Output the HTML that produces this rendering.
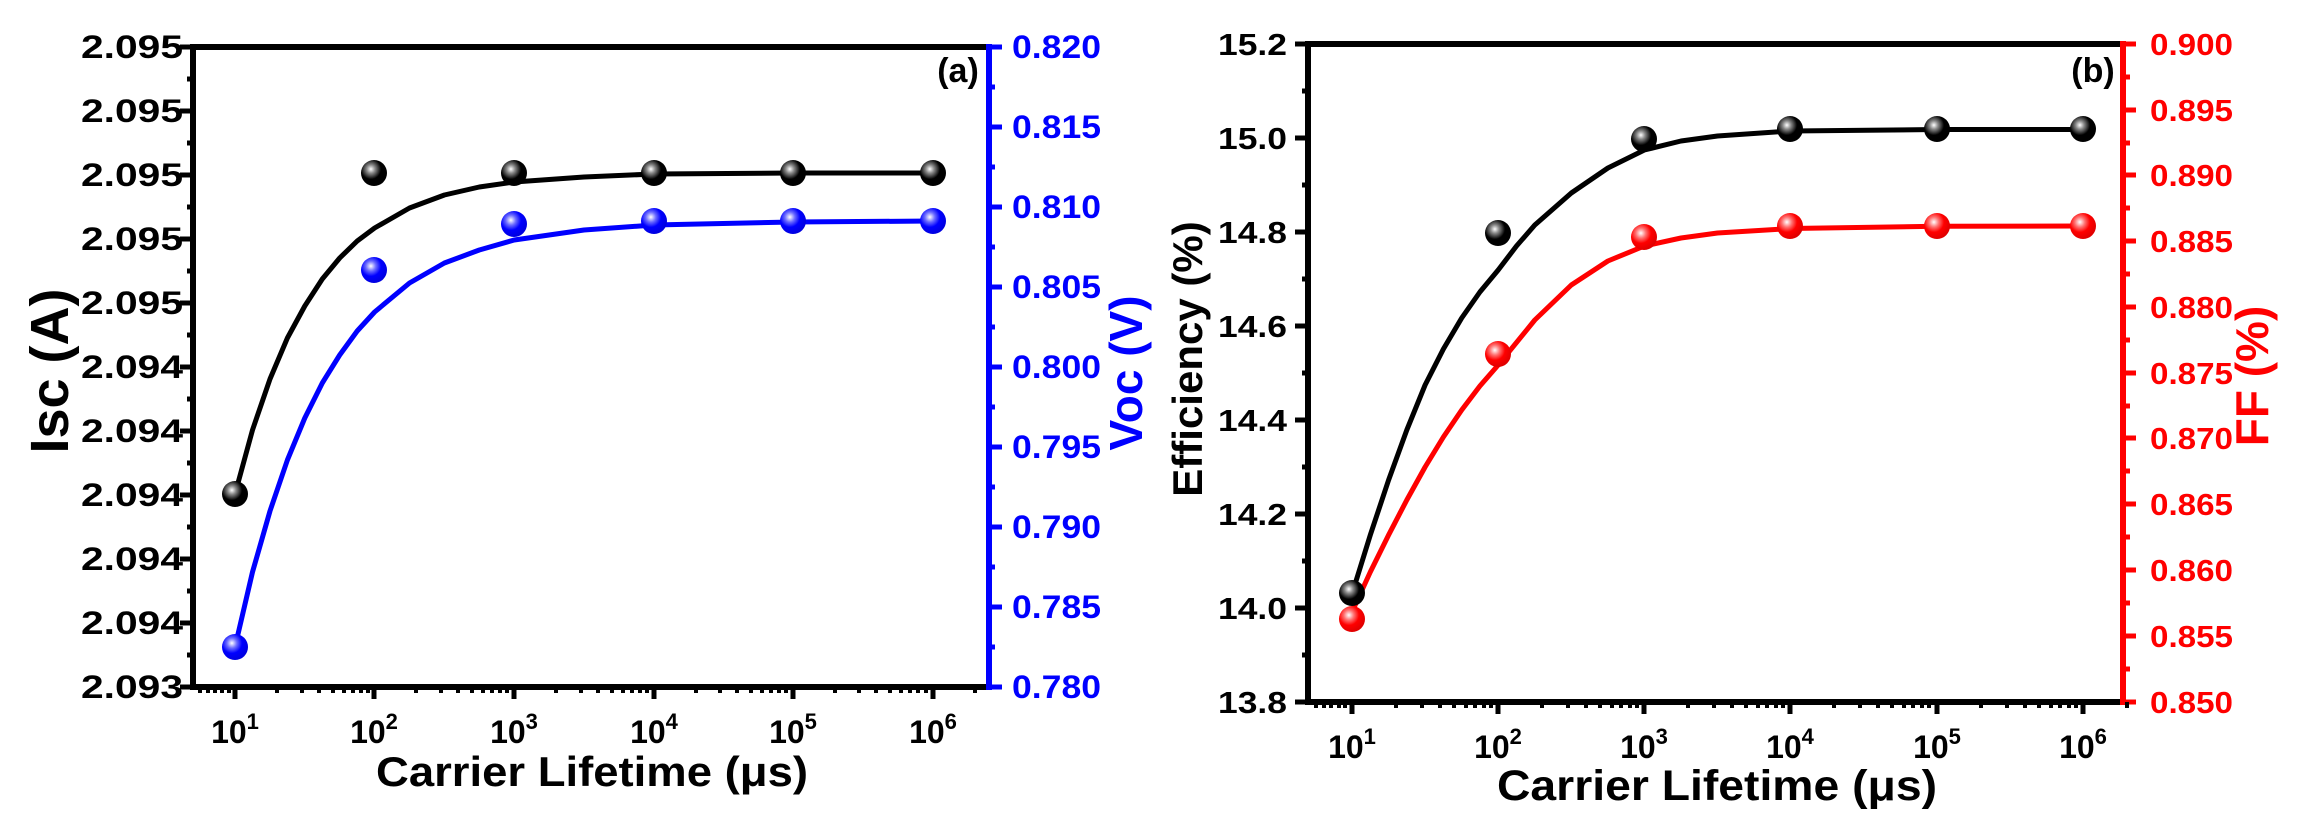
<!DOCTYPE html>
<html><head><meta charset="utf-8"><style>
html,body{margin:0;padding:0;background:#fff;}
svg{display:block;}
text{font-family:"Liberation Sans",Arial,sans-serif;font-weight:bold;}
</style></head><body>
<svg width="2307" height="832" viewBox="0 0 2307 832" xmlns="http://www.w3.org/2000/svg">
<defs>
<radialGradient id="gk" cx="0.38" cy="0.35" r="0.65"><stop offset="0" stop-color="#fff"/><stop offset="0.25" stop-color="#888"/><stop offset="0.6" stop-color="#000"/><stop offset="1" stop-color="#000"/></radialGradient>
<radialGradient id="gb" cx="0.38" cy="0.35" r="0.65"><stop offset="0" stop-color="#fff"/><stop offset="0.3" stop-color="#6a6aff"/><stop offset="0.6" stop-color="#0000ff"/><stop offset="1" stop-color="#0000e0"/></radialGradient>
<radialGradient id="gr" cx="0.38" cy="0.35" r="0.65"><stop offset="0" stop-color="#fff"/><stop offset="0.3" stop-color="#ff7070"/><stop offset="0.6" stop-color="#ff0000"/><stop offset="1" stop-color="#e00000"/></radialGradient>
</defs>

<!-- ================= PANEL A ================= -->
<g id="pa">
<polyline fill="none" stroke="#000" stroke-width="5" stroke-linejoin="round" points="235,494 252.5,430 270,379 287.4,338 304.8,306 322.3,279 339.7,258 357.2,241 374.6,228 409.5,208 444.4,195 479.3,187 514.2,182 584,177 654,174 793,173 933,173"/>
<polyline fill="none" stroke="#0000ff" stroke-width="5" stroke-linejoin="round" points="235,647 252.5,572 270,511 287.4,460 304.8,418 322.3,383 339.7,355 357.2,331 374.6,312 409.5,283 444.4,263 479.3,250 514.2,240 584,230 654,225 793,222 933,221"/>
<g fill="url(#gk)">
<circle cx="235" cy="494" r="13"/><circle cx="374" cy="173" r="13"/><circle cx="514" cy="173" r="13"/><circle cx="654" cy="173" r="13"/><circle cx="793" cy="173" r="13"/><circle cx="933" cy="173" r="13"/>
</g>
<g fill="url(#gb)">
<circle cx="235" cy="647" r="13"/><circle cx="374" cy="270" r="13"/><circle cx="514" cy="224" r="13"/><circle cx="654" cy="221" r="13"/><circle cx="793" cy="221" r="13"/><circle cx="933" cy="221" r="13"/>
</g>
<line x1="190" y1="47" x2="989" y2="47" stroke="#000" stroke-width="6"/>
<line x1="190" y1="687" x2="989" y2="687" stroke="#000" stroke-width="6"/>
<line x1="193" y1="44" x2="193" y2="690" stroke="#000" stroke-width="6"/>
<line x1="989" y1="44" x2="989" y2="690" stroke="#0000ff" stroke-width="6"/>
<g stroke="#000" stroke-width="5">
<line x1="180" y1="47" x2="193" y2="47"/><line x1="180" y1="111" x2="193" y2="111"/><line x1="180" y1="175" x2="193" y2="175"/><line x1="180" y1="239" x2="193" y2="239"/><line x1="180" y1="303" x2="193" y2="303"/><line x1="180" y1="367" x2="193" y2="367"/><line x1="180" y1="431" x2="193" y2="431"/><line x1="180" y1="495" x2="193" y2="495"/><line x1="180" y1="559" x2="193" y2="559"/><line x1="180" y1="623" x2="193" y2="623"/><line x1="180" y1="687" x2="193" y2="687"/>
<line x1="187" y1="79" x2="193" y2="79"/><line x1="187" y1="143" x2="193" y2="143"/><line x1="187" y1="207" x2="193" y2="207"/><line x1="187" y1="271" x2="193" y2="271"/><line x1="187" y1="335" x2="193" y2="335"/><line x1="187" y1="399" x2="193" y2="399"/><line x1="187" y1="463" x2="193" y2="463"/><line x1="187" y1="527" x2="193" y2="527"/><line x1="187" y1="591" x2="193" y2="591"/><line x1="187" y1="655" x2="193" y2="655"/>
</g>
<g stroke="#0000ff" stroke-width="5">
<line x1="989" y1="47" x2="1002" y2="47"/><line x1="989" y1="127" x2="1002" y2="127"/><line x1="989" y1="207" x2="1002" y2="207"/><line x1="989" y1="287" x2="1002" y2="287"/><line x1="989" y1="367" x2="1002" y2="367"/><line x1="989" y1="447" x2="1002" y2="447"/><line x1="989" y1="527" x2="1002" y2="527"/><line x1="989" y1="607" x2="1002" y2="607"/><line x1="989" y1="687" x2="1002" y2="687"/>
<line x1="989" y1="87" x2="995" y2="87"/><line x1="989" y1="167" x2="995" y2="167"/><line x1="989" y1="247" x2="995" y2="247"/><line x1="989" y1="327" x2="995" y2="327"/><line x1="989" y1="407" x2="995" y2="407"/><line x1="989" y1="487" x2="995" y2="487"/><line x1="989" y1="567" x2="995" y2="567"/><line x1="989" y1="647" x2="995" y2="647"/>
</g>
<g stroke="#000" stroke-width="5">
<line x1="235" y1="687" x2="235" y2="699"/><line x1="374" y1="687" x2="374" y2="699"/><line x1="514" y1="687" x2="514" y2="699"/><line x1="654" y1="687" x2="654" y2="699"/><line x1="793" y1="687" x2="793" y2="699"/><line x1="933" y1="687" x2="933" y2="699"/>
</g>
<g stroke="#000" stroke-width="4">
<line x1="200" y1="687" x2="200" y2="693"/><line x1="208" y1="687" x2="208" y2="693"/><line x1="215" y1="687" x2="215" y2="693"/><line x1="222" y1="687" x2="222" y2="693"/><line x1="229" y1="687" x2="229" y2="693"/>
<line x1="277" y1="687" x2="277" y2="693"/><line x1="302" y1="687" x2="302" y2="693"/><line x1="319" y1="687" x2="319" y2="693"/><line x1="333" y1="687" x2="333" y2="693"/><line x1="344" y1="687" x2="344" y2="693"/><line x1="353" y1="687" x2="353" y2="693"/><line x1="361" y1="687" x2="361" y2="693"/><line x1="368" y1="687" x2="368" y2="693"/>
<line x1="416" y1="687" x2="416" y2="693"/><line x1="441" y1="687" x2="441" y2="693"/><line x1="458" y1="687" x2="458" y2="693"/><line x1="472" y1="687" x2="472" y2="693"/><line x1="483" y1="687" x2="483" y2="693"/><line x1="492" y1="687" x2="492" y2="693"/><line x1="500" y1="687" x2="500" y2="693"/><line x1="507" y1="687" x2="507" y2="693"/>
<line x1="556" y1="687" x2="556" y2="693"/><line x1="581" y1="687" x2="581" y2="693"/><line x1="598" y1="687" x2="598" y2="693"/><line x1="612" y1="687" x2="612" y2="693"/><line x1="623" y1="687" x2="623" y2="693"/><line x1="632" y1="687" x2="632" y2="693"/><line x1="640" y1="687" x2="640" y2="693"/><line x1="647" y1="687" x2="647" y2="693"/>
<line x1="696" y1="687" x2="696" y2="693"/><line x1="720" y1="687" x2="720" y2="693"/><line x1="737" y1="687" x2="737" y2="693"/><line x1="751" y1="687" x2="751" y2="693"/><line x1="762" y1="687" x2="762" y2="693"/><line x1="771" y1="687" x2="771" y2="693"/><line x1="779" y1="687" x2="779" y2="693"/><line x1="786" y1="687" x2="786" y2="693"/>
<line x1="835" y1="687" x2="835" y2="693"/><line x1="859" y1="687" x2="859" y2="693"/><line x1="876" y1="687" x2="876" y2="693"/><line x1="890" y1="687" x2="890" y2="693"/><line x1="901" y1="687" x2="901" y2="693"/><line x1="910" y1="687" x2="910" y2="693"/><line x1="918" y1="687" x2="918" y2="693"/><line x1="926" y1="687" x2="926" y2="693"/>
<line x1="975" y1="687" x2="975" y2="693"/>
</g>
<g font-size="32" text-anchor="end" fill="#000">
<text x="183" y="58" textLength="102" lengthAdjust="spacingAndGlyphs">2.095</text>
<text x="183" y="122" textLength="102" lengthAdjust="spacingAndGlyphs">2.095</text>
<text x="183" y="186" textLength="102" lengthAdjust="spacingAndGlyphs">2.095</text>
<text x="183" y="250" textLength="102" lengthAdjust="spacingAndGlyphs">2.095</text>
<text x="183" y="314" textLength="102" lengthAdjust="spacingAndGlyphs">2.095</text>
<text x="183" y="378" textLength="102" lengthAdjust="spacingAndGlyphs">2.094</text>
<text x="183" y="442" textLength="102" lengthAdjust="spacingAndGlyphs">2.094</text>
<text x="183" y="506" textLength="102" lengthAdjust="spacingAndGlyphs">2.094</text>
<text x="183" y="570" textLength="102" lengthAdjust="spacingAndGlyphs">2.094</text>
<text x="183" y="634" textLength="102" lengthAdjust="spacingAndGlyphs">2.094</text>
<text x="183" y="698" textLength="102" lengthAdjust="spacingAndGlyphs">2.093</text>
</g>
<g font-size="32" fill="#0000ff">
<text x="1012" y="58" textLength="89" lengthAdjust="spacingAndGlyphs">0.820</text>
<text x="1012" y="138" textLength="89" lengthAdjust="spacingAndGlyphs">0.815</text>
<text x="1012" y="218" textLength="89" lengthAdjust="spacingAndGlyphs">0.810</text>
<text x="1012" y="298" textLength="89" lengthAdjust="spacingAndGlyphs">0.805</text>
<text x="1012" y="378" textLength="89" lengthAdjust="spacingAndGlyphs">0.800</text>
<text x="1012" y="458" textLength="89" lengthAdjust="spacingAndGlyphs">0.795</text>
<text x="1012" y="538" textLength="89" lengthAdjust="spacingAndGlyphs">0.790</text>
<text x="1012" y="618" textLength="89" lengthAdjust="spacingAndGlyphs">0.785</text>
<text x="1012" y="698" textLength="89" lengthAdjust="spacingAndGlyphs">0.780</text>
</g>
<g font-size="32" fill="#000" text-anchor="middle">
<text x="235" y="743">10<tspan font-size="22" dy="-14">1</tspan></text>
<text x="374" y="743">10<tspan font-size="22" dy="-14">2</tspan></text>
<text x="514" y="743">10<tspan font-size="22" dy="-14">3</tspan></text>
<text x="654" y="743">10<tspan font-size="22" dy="-14">4</tspan></text>
<text x="793" y="743">10<tspan font-size="22" dy="-14">5</tspan></text>
<text x="933" y="743">10<tspan font-size="22" dy="-14">6</tspan></text>
</g>
<text x="376" y="786" font-size="42" fill="#000" textLength="432" lengthAdjust="spacingAndGlyphs">Carrier Lifetime (μs)</text>
<text transform="translate(68,371) rotate(-90)" font-size="54" fill="#000" text-anchor="middle">Isc (A)</text>
<text transform="translate(1142,373) rotate(-90)" font-size="46" fill="#0000ff" text-anchor="middle">Voc (V)</text>
<text x="958" y="82" font-size="34" fill="#000" text-anchor="middle">(a)</text>
</g>

<!-- ================= PANEL B ================= -->
<g id="pb">
<polyline fill="none" stroke="#000" stroke-width="5" stroke-linejoin="round" points="1352,594 1370.3,535 1388.6,480 1406.8,430 1425.1,385 1443.4,349 1461.7,318 1479.9,292 1498.2,270 1516.5,246 1534.8,225 1571.3,193 1607.9,168 1644.4,150 1681,141 1717.5,136 1790.6,131 1936.8,129.5 2083,129.5"/>
<polyline fill="none" stroke="#ff0000" stroke-width="5" stroke-linejoin="round" points="1352,612 1370.3,572 1388.6,535 1406.8,500 1425.1,467 1443.4,437 1461.7,410 1479.9,386 1498.2,365 1534.8,320 1571.3,285 1607.9,261 1644.4,246 1681,238 1717.5,233 1790.6,228.5 1936.8,226.3 2083,226"/>
<g fill="url(#gk)">
<circle cx="1352" cy="593" r="13"/><circle cx="1498" cy="233" r="13"/><circle cx="1644" cy="139" r="13"/><circle cx="1790" cy="129" r="13"/><circle cx="1937" cy="129" r="13"/><circle cx="2083" cy="129" r="13"/>
</g>
<g fill="url(#gr)">
<circle cx="1352" cy="619" r="13"/><circle cx="1498" cy="354" r="13"/><circle cx="1644" cy="237" r="13"/><circle cx="1790" cy="226" r="13"/><circle cx="1937" cy="226" r="13"/><circle cx="2083" cy="226" r="13"/>
</g>
<line x1="1305" y1="44" x2="2123" y2="44" stroke="#000" stroke-width="6"/>
<line x1="1305" y1="702" x2="2123" y2="702" stroke="#000" stroke-width="6"/>
<line x1="1308" y1="41" x2="1308" y2="705" stroke="#000" stroke-width="6"/>
<line x1="2123" y1="41" x2="2123" y2="705" stroke="#ff0000" stroke-width="6"/>
<g stroke="#000" stroke-width="5">
<line x1="1295" y1="44" x2="1308" y2="44"/><line x1="1295" y1="138" x2="1308" y2="138"/><line x1="1295" y1="232" x2="1308" y2="232"/><line x1="1295" y1="326" x2="1308" y2="326"/><line x1="1295" y1="420" x2="1308" y2="420"/><line x1="1295" y1="514" x2="1308" y2="514"/><line x1="1295" y1="608" x2="1308" y2="608"/><line x1="1295" y1="702" x2="1308" y2="702"/>
<line x1="1302" y1="91" x2="1308" y2="91"/><line x1="1302" y1="185" x2="1308" y2="185"/><line x1="1302" y1="279" x2="1308" y2="279"/><line x1="1302" y1="373" x2="1308" y2="373"/><line x1="1302" y1="467" x2="1308" y2="467"/><line x1="1302" y1="561" x2="1308" y2="561"/><line x1="1302" y1="655" x2="1308" y2="655"/>
</g>
<g stroke="#ff0000" stroke-width="5">
<line x1="2123" y1="44" x2="2136" y2="44"/><line x1="2123" y1="110" x2="2136" y2="110"/><line x1="2123" y1="175" x2="2136" y2="175"/><line x1="2123" y1="241" x2="2136" y2="241"/><line x1="2123" y1="307" x2="2136" y2="307"/><line x1="2123" y1="373" x2="2136" y2="373"/><line x1="2123" y1="438" x2="2136" y2="438"/><line x1="2123" y1="504" x2="2136" y2="504"/><line x1="2123" y1="570" x2="2136" y2="570"/><line x1="2123" y1="636" x2="2136" y2="636"/><line x1="2123" y1="702" x2="2136" y2="702"/>
<line x1="2123" y1="77" x2="2130" y2="77"/><line x1="2123" y1="143" x2="2130" y2="143"/><line x1="2123" y1="208" x2="2130" y2="208"/><line x1="2123" y1="274" x2="2130" y2="274"/><line x1="2123" y1="340" x2="2130" y2="340"/><line x1="2123" y1="406" x2="2130" y2="406"/><line x1="2123" y1="471" x2="2130" y2="471"/><line x1="2123" y1="537" x2="2130" y2="537"/><line x1="2123" y1="603" x2="2130" y2="603"/><line x1="2123" y1="669" x2="2130" y2="669"/>
</g>
<g stroke="#000" stroke-width="5">
<line x1="1352" y1="702" x2="1352" y2="714"/><line x1="1498" y1="702" x2="1498" y2="714"/><line x1="1644" y1="702" x2="1644" y2="714"/><line x1="1790" y1="702" x2="1790" y2="714"/><line x1="1937" y1="702" x2="1937" y2="714"/><line x1="2083" y1="702" x2="2083" y2="714"/>
</g>
<g stroke="#000" stroke-width="4">
<line x1="1316" y1="702" x2="1316" y2="708"/><line x1="1324" y1="702" x2="1324" y2="708"/><line x1="1331" y1="702" x2="1331" y2="708"/><line x1="1339" y1="702" x2="1339" y2="708"/><line x1="1345" y1="702" x2="1345" y2="708"/>
<line x1="1396" y1="702" x2="1396" y2="708"/><line x1="1422" y1="702" x2="1422" y2="708"/><line x1="1440" y1="702" x2="1440" y2="708"/><line x1="1454" y1="702" x2="1454" y2="708"/><line x1="1466" y1="702" x2="1466" y2="708"/><line x1="1475" y1="702" x2="1475" y2="708"/><line x1="1484" y1="702" x2="1484" y2="708"/><line x1="1491" y1="702" x2="1491" y2="708"/>
<line x1="1542" y1="702" x2="1542" y2="708"/><line x1="1568" y1="702" x2="1568" y2="708"/><line x1="1586" y1="702" x2="1586" y2="708"/><line x1="1600" y1="702" x2="1600" y2="708"/><line x1="1612" y1="702" x2="1612" y2="708"/><line x1="1621" y1="702" x2="1621" y2="708"/><line x1="1630" y1="702" x2="1630" y2="708"/><line x1="1637" y1="702" x2="1637" y2="708"/>
<line x1="1688" y1="702" x2="1688" y2="708"/><line x1="1714" y1="702" x2="1714" y2="708"/><line x1="1732" y1="702" x2="1732" y2="708"/><line x1="1746" y1="702" x2="1746" y2="708"/><line x1="1758" y1="702" x2="1758" y2="708"/><line x1="1767" y1="702" x2="1767" y2="708"/><line x1="1776" y1="702" x2="1776" y2="708"/><line x1="1783" y1="702" x2="1783" y2="708"/>
<line x1="1834" y1="702" x2="1834" y2="708"/><line x1="1860" y1="702" x2="1860" y2="708"/><line x1="1878" y1="702" x2="1878" y2="708"/><line x1="1892" y1="702" x2="1892" y2="708"/><line x1="1904" y1="702" x2="1904" y2="708"/><line x1="1913" y1="702" x2="1913" y2="708"/><line x1="1922" y1="702" x2="1922" y2="708"/><line x1="1929" y1="702" x2="1929" y2="708"/>
<line x1="1981" y1="702" x2="1981" y2="708"/><line x1="2007" y1="702" x2="2007" y2="708"/><line x1="2025" y1="702" x2="2025" y2="708"/><line x1="2039" y1="702" x2="2039" y2="708"/><line x1="2051" y1="702" x2="2051" y2="708"/><line x1="2060" y1="702" x2="2060" y2="708"/><line x1="2069" y1="702" x2="2069" y2="708"/><line x1="2076" y1="702" x2="2076" y2="708"/>
<line x1="2127" y1="702" x2="2127" y2="708"/>
</g>
<g font-size="31" text-anchor="end" fill="#000">
<text x="1287" y="55" textLength="69" lengthAdjust="spacingAndGlyphs">15.2</text>
<text x="1287" y="149" textLength="69" lengthAdjust="spacingAndGlyphs">15.0</text>
<text x="1287" y="243" textLength="69" lengthAdjust="spacingAndGlyphs">14.8</text>
<text x="1287" y="337" textLength="69" lengthAdjust="spacingAndGlyphs">14.6</text>
<text x="1287" y="431" textLength="69" lengthAdjust="spacingAndGlyphs">14.4</text>
<text x="1287" y="525" textLength="69" lengthAdjust="spacingAndGlyphs">14.2</text>
<text x="1287" y="619" textLength="69" lengthAdjust="spacingAndGlyphs">14.0</text>
<text x="1287" y="713" textLength="69" lengthAdjust="spacingAndGlyphs">13.8</text>
</g>
<g font-size="31" fill="#ff0000">
<text x="2150" y="55" textLength="83" lengthAdjust="spacingAndGlyphs">0.900</text>
<text x="2150" y="121" textLength="83" lengthAdjust="spacingAndGlyphs">0.895</text>
<text x="2150" y="186" textLength="83" lengthAdjust="spacingAndGlyphs">0.890</text>
<text x="2150" y="252" textLength="83" lengthAdjust="spacingAndGlyphs">0.885</text>
<text x="2150" y="318" textLength="83" lengthAdjust="spacingAndGlyphs">0.880</text>
<text x="2150" y="384" textLength="83" lengthAdjust="spacingAndGlyphs">0.875</text>
<text x="2150" y="449" textLength="83" lengthAdjust="spacingAndGlyphs">0.870</text>
<text x="2150" y="515" textLength="83" lengthAdjust="spacingAndGlyphs">0.865</text>
<text x="2150" y="581" textLength="83" lengthAdjust="spacingAndGlyphs">0.860</text>
<text x="2150" y="647" textLength="83" lengthAdjust="spacingAndGlyphs">0.855</text>
<text x="2150" y="713" textLength="83" lengthAdjust="spacingAndGlyphs">0.850</text>
</g>
<g font-size="32" fill="#000" text-anchor="middle">
<text x="1352" y="758">10<tspan font-size="22" dy="-14">1</tspan></text>
<text x="1498" y="758">10<tspan font-size="22" dy="-14">2</tspan></text>
<text x="1644" y="758">10<tspan font-size="22" dy="-14">3</tspan></text>
<text x="1790" y="758">10<tspan font-size="22" dy="-14">4</tspan></text>
<text x="1937" y="758">10<tspan font-size="22" dy="-14">5</tspan></text>
<text x="2083" y="758">10<tspan font-size="22" dy="-14">6</tspan></text>
</g>
<text x="1497" y="800" font-size="43" fill="#000" textLength="440" lengthAdjust="spacingAndGlyphs">Carrier Lifetime (μs)</text>
<text transform="translate(1202,359) rotate(-90)" font-size="42" fill="#000" text-anchor="middle">Efficiency (%)</text>
<text transform="translate(2268,376) rotate(-90)" font-size="46" fill="#ff0000" text-anchor="middle">FF (%)</text>
<text x="2093" y="82" font-size="34" fill="#000" text-anchor="middle">(b)</text>
</g>
</svg>
</body></html>
